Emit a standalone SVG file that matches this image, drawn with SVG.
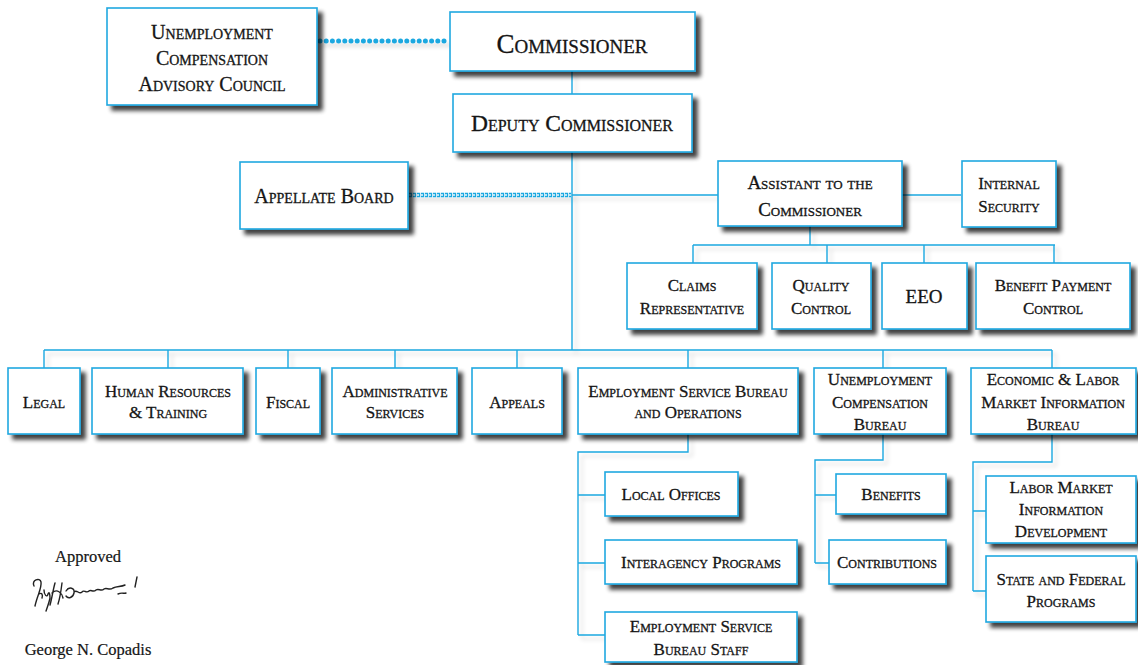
<svg xmlns="http://www.w3.org/2000/svg" width="1138" height="665" viewBox="0 0 1138 665">
<defs>
<filter id="sh" x="-20%" y="-20%" width="150%" height="160%">
<feGaussianBlur in="SourceAlpha" stdDeviation="2.2"/>
<feOffset dx="5" dy="5" result="b"/>
<feComponentTransfer><feFuncA type="linear" slope="0.75"/></feComponentTransfer>
<feMerge><feMergeNode/><feMergeNode in="SourceGraphic"/></feMerge>
</filter>
<filter id="lsh" x="-5%" y="-50%" width="110%" height="200%">
<feGaussianBlur in="SourceAlpha" stdDeviation="2"/>
<feOffset dx="4" dy="4"/>
<feComponentTransfer><feFuncA type="linear" slope="0.15"/></feComponentTransfer>
<feMerge><feMergeNode/><feMergeNode in="SourceGraphic"/></feMerge>
</filter>
</defs>
<style>
.box{fill:#fff;stroke:#1ea8e0;stroke-width:1.6;filter:url(#sh)}
.ln{fill:none;stroke:#1ea8e0;stroke-width:1.4}
text{font-family:"Liberation Serif","DejaVu Serif",serif;font-variant:small-caps;fill:#151515;stroke:#151515;stroke-width:0.3;text-anchor:middle}
.t14{font-size:17px}
.t16{font-size:19px}
.t17{font-size:20px}
.plain{font-variant:normal;font-size:16.5px;stroke-width:0.2}
</style>
<rect width="1138" height="665" fill="#fff"/>
<g id="connectors" filter="url(#lsh)">
<path class="ln" d="M572 71V350M572 195H718M901 195H961M810 226V245M693 245H1055M693 245V263M827 245V263M924 245V263M1054 245V263"/>
<path class="ln" d="M44 350H1052M44 350V368M168 350V368M288 350V368M395 350V368M517 350V368M688 350V368M883 350V368M1052 350V368"/>
<path class="ln" d="M688 434V452H578V635M578 495H605M578 563H605M578 635H605"/>
<path class="ln" d="M883 434V460H815V563M815 495H836M815 563H829"/>
<path class="ln" d="M1052 434V462H973V591M973 511H986M973 591H986"/>
<path d="M320 41H449" fill="none" stroke="#1ea8e0" stroke-width="5" stroke-linecap="round" stroke-dasharray="0 6.2"/>
<path d="M409 195H571" fill="none" stroke="#1ea8e0" stroke-width="4.5" stroke-dasharray="3.2 0.8"/>
<path d="M409 195H571" fill="none" stroke="#e8f7fd" stroke-width="1.4" stroke-dasharray="2 2"/>
</g>
<g id="n-ucac"><rect class="box" x="107" y="8" width="210" height="97"/>
<text class="t17" x="212" y="39">Unemployment</text><text class="t17" x="212" y="65">Compensation</text><text class="t17" x="212" y="91">Advisory Council</text></g>
<g id="n-comm"><rect class="box" x="450" y="12" width="245" height="59"/><text x="572" y="53" style="font-size:27px">Commissioner</text></g>
<g id="n-deputy"><rect class="box" x="453" y="94" width="239" height="58"/><text x="572" y="131" style="font-size:23.5px">Deputy Commissioner</text></g>
<g id="n-appellate"><rect class="box" x="240" y="162" width="168" height="67"/><text class="t17" x="324" y="203">Appellate Board</text></g>
<g id="n-assistant"><rect class="box" x="718" y="161" width="184" height="65"/><text class="t16" x="810" y="189">Assistant to the</text><text class="t16" x="810" y="216">Commissioner</text></g>
<g id="n-security"><rect class="box" x="962" y="161" width="94" height="66"/><text class="t14" x="1009" y="189">Internal</text><text class="t14" x="1009" y="212">Security</text></g>
<g id="n-claims"><rect class="box" x="627" y="263" width="130" height="66"/><text class="t14" x="692" y="291">Claims</text><text class="t14" x="692" y="314">Representative</text></g>
<g id="n-quality"><rect class="box" x="772" y="263" width="99" height="66"/><text class="t14" x="821" y="291">Quality</text><text class="t14" x="821" y="314">Control</text></g>
<g id="n-eeo"><rect class="box" x="882" y="263" width="85" height="66"/><text class="t16" x="924" y="303">EEO</text></g>
<g id="n-bpc"><rect class="box" x="976" y="263" width="154" height="66"/><text class="t14" x="1053" y="291">Benefit Payment</text><text class="t14" x="1053" y="314">Control</text></g>
<g id="n-legal"><rect class="box" x="8" y="368" width="72" height="66"/><text class="t14" x="44" y="408">Legal</text></g>
<g id="n-hr"><rect class="box" x="92" y="368" width="151" height="66"/><text class="t14" x="168" y="397">Human Resources</text><text class="t14" x="168" y="418">&amp; Training</text></g>
<g id="n-fiscal"><rect class="box" x="256" y="368" width="64" height="66"/><text class="t14" x="288" y="408">Fiscal</text></g>
<g id="n-admin"><rect class="box" x="332" y="368" width="125" height="66"/><text class="t14" x="395" y="397">Administrative</text><text class="t14" x="395" y="418">Services</text></g>
<g id="n-appeals"><rect class="box" x="472" y="368" width="90" height="66"/><text class="t14" x="517" y="408">Appeals</text></g>
<g id="n-esbo"><rect class="box" x="578" y="368" width="220" height="66"/><text class="t14" x="688" y="397">Employment Service Bureau</text><text class="t14" x="688" y="418">and Operations</text></g>
<g id="n-ucb"><rect class="box" x="814" y="368" width="132" height="66"/><text class="t14" x="880" y="385">Unemployment</text><text class="t14" x="880" y="408">Compensation</text><text class="t14" x="880" y="430">Bureau</text></g>
<g id="n-elmib"><rect class="box" x="971" y="368" width="165" height="66"/><text class="t14" x="1053" y="385">Economic &amp; Labor</text><text class="t14" x="1053" y="408">Market Information</text><text class="t14" x="1053" y="430">Bureau</text></g>
<g id="n-local"><rect class="box" x="605" y="472" width="133" height="44"/><text class="t14" x="671" y="500">Local Offices</text></g>
<g id="n-inter"><rect class="box" x="605" y="540" width="192" height="44"/><text class="t14" x="701" y="568">Interagency Programs</text></g>
<g id="n-esbs"><rect class="box" x="605" y="612" width="192" height="50"/><text class="t14" x="701" y="632">Employment Service</text><text class="t14" x="701" y="655">Bureau Staff</text></g>
<g id="n-benefits"><rect class="box" x="836" y="474" width="110" height="40"/><text class="t14" x="891" y="500">Benefits</text></g>
<g id="n-contrib"><rect class="box" x="829" y="540" width="117" height="44"/><text class="t14" x="887" y="568">Contributions</text></g>
<g id="n-lmid"><rect class="box" x="986" y="476" width="150" height="67"/><text class="t14" x="1061" y="493">Labor Market</text><text class="t14" x="1061" y="515">Information</text><text class="t14" x="1061" y="537">Development</text></g>
<g id="n-sfp"><rect class="box" x="986" y="556" width="150" height="66"/><text class="t14" x="1061" y="585">State and Federal</text><text class="t14" x="1061" y="607">Programs</text></g>
<g id="approval">
<text class="plain" x="88" y="562">Approved</text>
<path d="M34 586c-3-6 6-9 7-4 1 6-4 14-6 24M39 594c3-2 4 1 3 4M44 590c0 5 3 8 4 4 1-3 2 0 2 4-1 5-3 10-4 13M55 583c-2 7-3 15-5 22M52 593c5-5 10 0 11 5M62 583c-1 8-2 15-4 21M66 591c3-5 9-3 8 2s-6 6-8 3M74 592c3-3 5 3 8 0 2-3 4 2 7-1 2-2 4 2 7-1 3-2 5 2 8-1 3-2 5 2 9-1 4-2 8-1 12-3M118 594c4-2 6 0 8-1M137 577l-2 10" fill="none" stroke="#222" stroke-width="1.4" stroke-linecap="round"/>
<text class="plain" x="88" y="655">George N. Copadis</text>
</g>
</svg>
